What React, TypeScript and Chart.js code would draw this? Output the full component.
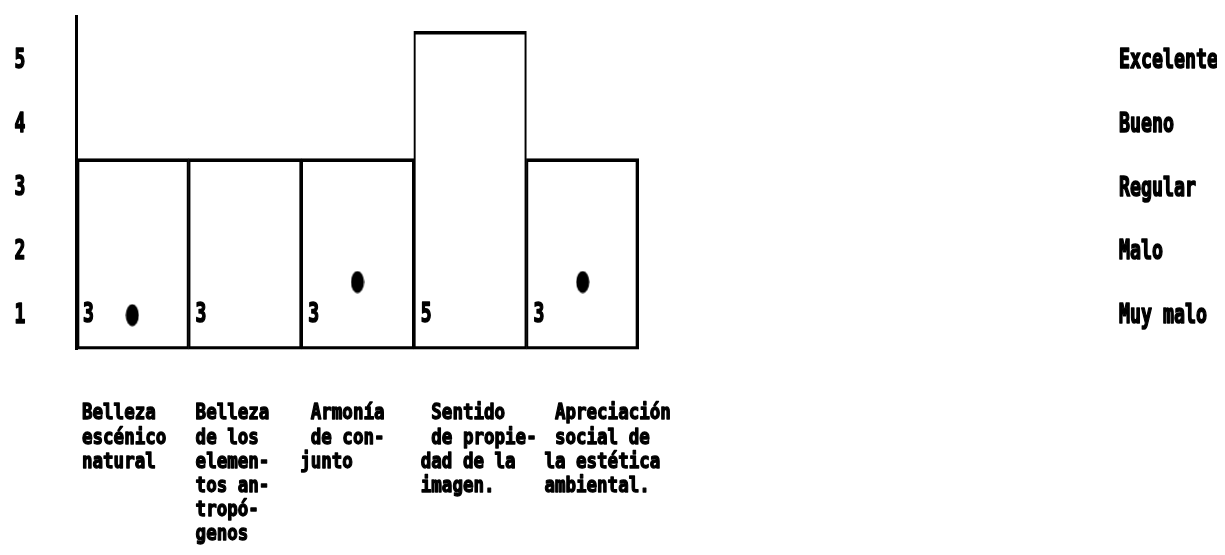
import React, { useEffect, useRef } from "react";
import { Chart, registerables } from "chart.js";

Chart.register(...registerables);

// ---- data ----
const categories: string[][] = [
  ["Belleza", "escénico", "natural"],
  ["Belleza", "de los", "elemen-", "tos an-", "tropó-", "genos"],
  [" Armonía", " de con-", "junto"],
  [" Sentido", " de propie-", "dad de la", "imagen."],
  [" Apreciación", " social de", "la estética", "ambiental."],
];
const barValues: number[] = [3, 3, 3, 5, 3];
const dotValues: (number | null)[] = [0.54, null, 1.06, null, 1.06];
const levelNumbers: string[] = ["1", "2", "3", "4", "5"];
const levelNames: string[] = ["Muy malo", "Malo", "Regular", "Bueno", "Excelente"];

// ---- layout / style ----
const FONT = '"DejaVu Sans Mono", monospace';
const catOffsets = [6, 7, -1, 7, 18];

function stretchedText(
  ctx: CanvasRenderingContext2D,
  text: string,
  x: number,
  y: number,
  sy: number,
  align: CanvasTextAlign,
  size: number
) {
  ctx.save();
  ctx.translate(x, y);
  ctx.scale(1, sy);
  ctx.font = `bold ${size}px ${FONT}`;
  ctx.fillStyle = "#000";
  ctx.strokeStyle = "#000";
  ctx.lineWidth = 1.1;
  ctx.lineJoin = "round";
  ctx.textAlign = align;
  ctx.textBaseline = "middle";
  ctx.fillText(text, 0, 0);
  ctx.strokeText(text, 0, 0);
  ctx.restore();
}

const textPlugin = {
  id: "typedText",
  afterDraw(chart: any) {
    const ctx: CanvasRenderingContext2D = chart.ctx;
    const xs = chart.scales.x;
    const ys = chart.scales.y;
    const barW = chart.chartArea.width / categories.length;
    levelNumbers.forEach((t, i) => {
      const y = ys.getPixelForValue(i + 0.53);
      stretchedText(ctx, t, 12, y, 1.5, "center", 18);
    });
    levelNames.forEach((t, i) => {
      const y = ys.getPixelForValue(i + 0.53);
      stretchedText(ctx, t, 1111, y, 1.5, "left", 18.3);
    });
    barValues.forEach((v, i) => {
      const left = xs.getPixelForValue(i) - barW / 2;
      const y = ys.getPixelForValue(0.54);
      stretchedText(ctx, String(v), left + 7, y, 1.5, "left", 18);
    });
    const firstRow = 406;
    const rowGap = 24.2;
    categories.forEach((lines, i) => {
      const left = xs.getPixelForValue(i) - barW / 2 + catOffsets[i];
      lines.forEach((ln, r) => {
        stretchedText(ctx, ln, left, firstRow + r * rowGap, 1.2, "left", 17.5);
      });
    });
  },
};

function makeDot(): HTMLCanvasElement {
  const c = document.createElement("canvas");
  c.width = 14;
  c.height = 23;
  const g = c.getContext("2d")!;
  g.fillStyle = "#000";
  g.beginPath();
  g.ellipse(7, 11.5, 6.5, 11, 0, 0, Math.PI * 2);
  g.fill();
  return c;
}

export default function App() {
  const ref = useRef<HTMLCanvasElement | null>(null);
  useEffect(() => {
    if (!ref.current) return;
    const dot = makeDot();
    const chart = new Chart(ref.current, {
      type: "bar",
      data: {
        labels: categories.map((c) => c.join(" ")),
        datasets: [
          {
            type: "line" as any,
            data: dotValues as any,
            showLine: false,
            pointStyle: dot as any,
            pointRadius: 7,
            borderColor: "#000",
            backgroundColor: "#000",
            order: 0,
          } as any,
          {
            type: "bar",
            data: barValues,
            backgroundColor: "rgba(0,0,0,0)",
            borderColor: "#000",
            borderWidth: (c: any) => ({
              top: 3,
              bottom: 3,
              left: c.dataIndex === 0 ? 3 : 1.5,
              right: c.dataIndex === barValues.length - 1 ? 3 : 1.5,
            }),
            borderSkipped: false,
            categoryPercentage: 1,
            barPercentage: 1,
            order: 1,
          } as any,
        ],
      },
      options: {
        animation: false,
        responsive: false,
        maintainAspectRatio: false,
        layout: { padding: { left: 68, right: 578, top: 8, bottom: 197.5 } },
        plugins: { legend: { display: false }, tooltip: { enabled: false } },
        scales: {
          x: { display: false },
          y: {
            min: 0,
            max: 5.24,
            ticks: { display: false },
            grid: { display: false, drawTicks: false },
            border: { display: true, color: "#000", width: 3 },
          },
        },
      },
      plugins: [textPlugin],
    });
    return () => chart.destroy();
  }, []);
  return (
    <div style={{ width: 1209, height: 539 }}>
      <canvas ref={ref} width={1209} height={539} style={{ display: "block" }} />
    </div>
  );
}
